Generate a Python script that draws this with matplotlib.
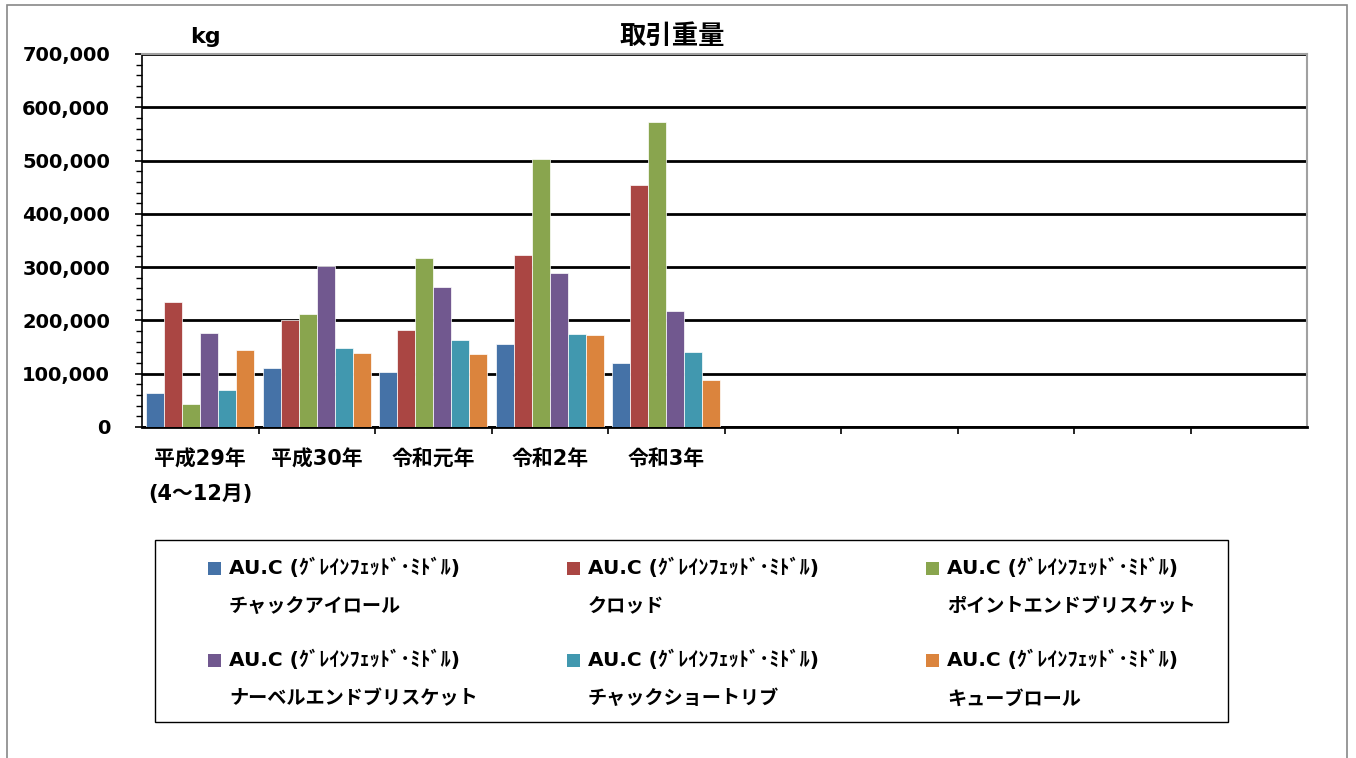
import numpy as np
import matplotlib.pyplot as plt
from matplotlib.patches import Rectangle
from matplotlib.ticker import MultipleLocator, FuncFormatter

plt.rcParams['font.family'] = ['DejaVu Sans', 'Noto Sans CJK JP']
plt.rcParams['font.weight'] = 'bold'

categories = ['平成29年\n(4～12月)', '平成30年', '令和元年', '令和2年', '令和3年']
n_slots = 10

prefix = 'AU.C (ｸﾞﾚｲﾝﾌｪｯﾄﾞ･ﾐﾄﾞﾙ)'
cuts = ['チャックアイロール', 'クロッド', 'ポイントエンドブリスケット',
        'ナーベルエンドブリスケット', 'チャックショートリブ', 'キューブロール']

chuck_eye = [64000, 110000, 104000, 155000, 120000]
clod = [234000, 201000, 182000, 323000, 455000]
point_end = [44000, 213000, 318000, 503000, 573000]
navel_end = [177000, 303000, 263000, 289000, 217000]
chuck_short = [69000, 149000, 164000, 175000, 140000]
cube_roll = [145000, 139000, 137000, 172000, 89000]

series = [chuck_eye, clod, point_end, navel_end, chuck_short, cube_roll]
colors = ['#4572A7', '#AA4643', '#89A54E', '#71588F', '#4198AF', '#DB843D']

W, H = 1356, 758
fig = plt.figure(figsize=(W / 100, H / 100), dpi=100)
ax = fig.add_axes([142 / W, 1 - 427 / H, 1165 / W, 373 / H])

x = np.arange(len(categories))
bw = 0.155
for j, (vals, c) in enumerate(zip(series, colors)):
    ax.bar(x + (j - 2.5) * bw, vals, bw, color=c, edgecolor='white',
           linewidth=0.5, zorder=3)

ax.set_xlim(-0.5, n_slots - 0.5)
ax.set_ylim(0, 700000)
ax.yaxis.set_major_locator(MultipleLocator(100000))
ax.yaxis.set_minor_locator(MultipleLocator(20000))
ax.yaxis.set_major_formatter(FuncFormatter(lambda v, p: f'{int(v):,}'))
ax.tick_params(axis='y', which='major', length=5, width=1.2, pad=18,
               labelsize=14)
ax.tick_params(axis='y', which='minor', length=4, width=1)

ax.set_xticks(np.arange(0.5, n_slots - 0.5, 1))
ax.set_xticklabels([])
ax.set_xticks(x, minor=True)
ax.set_xticklabels(categories, minor=True)
ax.tick_params(axis='x', which='major', length=5, width=1.2, direction='out')
ax.tick_params(axis='x', which='minor', length=0, pad=16, labelsize=15)
for t in ax.get_xticklabels(minor=True):
    t.set_linespacing(1.9)

ax.yaxis.grid(True, color='black', linewidth=2)
ax.get_ygridlines()[-1].set_visible(False)
ax.set_axisbelow(True)

for s in ['top', 'right']:
    ax.spines[s].set_color('#a0a0a0')
    ax.spines[s].set_linewidth(1.5)
ax.spines['left'].set_linewidth(1.2)
ax.spines['bottom'].set_linewidth(2)

fig.text(672 / W, 1 - 37 / H, '取引重量', ha='center', va='center',
         fontsize=19, weight='bold')
fig.text(205 / W, 1 - 37 / H, 'kg', ha='center', va='center',
         fontsize=16, weight='bold')

# outer frame
fig.add_artist(Rectangle((7 / W, -0.05), (1347 - 7) / W, 1.05 - 5 / H,
                         transform=fig.transFigure, fill=False,
                         edgecolor='#888888', linewidth=1.2))

# legend box
fig.add_artist(Rectangle((155 / W, 1 - 722 / H), (1228 - 155) / W,
                         (722 - 540) / H, transform=fig.transFigure,
                         fill=False, edgecolor='black', linewidth=1))
col_x = [208, 567, 926]
row_y = [568, 660]
for i, (name, c) in enumerate(zip(cuts, colors)):
    cx = col_x[i % 3]
    ry = row_y[i // 3]
    fig.add_artist(Rectangle((cx / W, 1 - (ry + 7) / H), 13 / W, 13 / H,
                             transform=fig.transFigure, facecolor=c,
                             edgecolor='none'))
    fig.text((cx + 21) / W, 1 - ry / H, prefix, ha='left', va='center',
             fontsize=14.5, weight='bold')
    fig.text((cx + 21) / W, 1 - (ry + 39) / H, name, ha='left', va='center',
             fontsize=13.8, weight='bold')

fig.savefig('out.png', dpi=100)
